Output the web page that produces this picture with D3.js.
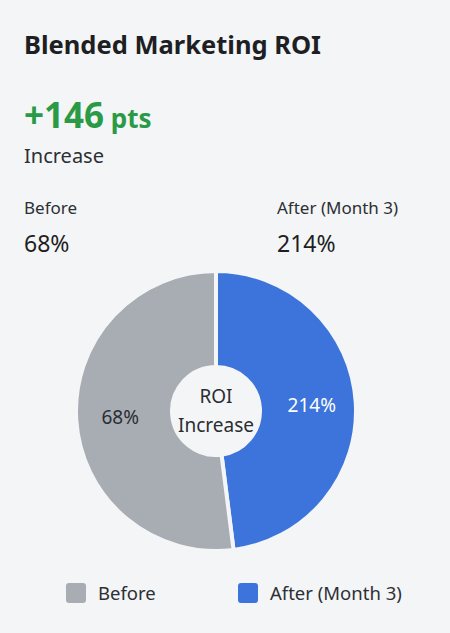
<!DOCTYPE html>
<html><head><meta charset="utf-8">
<script src="https://cdn.jsdelivr.net/npm/d3@7"></script>
<style>body{margin:0;background:#f4f5f6;font-family:"Noto Sans",sans-serif;}</style>
</head><body><div class="js-chart"></div>
<script>
(function(d3) {
	// labels and values shown on the chart
	var categories = ['After (Month 3)', 'Before'],
		roiValues = ['214%', '68%'],
		// slice shares as drawn in the picture (percent of the ring)
		sliceShares = [48, 52],
		colors = ['#3d74db', '#a8acb3'];

	var w = 450, h = 633,
		svg = d3.select('.js-chart').append('svg').attr('width', w).attr('height', h);

	svg.append('rect').attr('width', w).attr('height', h).attr('fill', '#f4f5f6');

	svg.append('text').attr('x', 24).attr('y', 54).text('Blended Marketing ROI')
		.attr('font-size', 25.5).attr('font-weight', 700).attr('fill', '#1d1f24');

	var big = svg.append('text').attr('x', 24).attr('y', 128).attr('fill', '#2a9a47').attr('font-weight', 700);
	big.append('tspan').text('+146').attr('font-size', 35);
	big.append('tspan').text(' pts').attr('font-size', 26);
	svg.append('text').attr('x', 24).attr('y', 163).text('Increase').attr('font-size', 20).attr('fill', '#2c2f35');

	svg.append('text').attr('x', 24).attr('y', 214).text('Before').attr('font-size', 17).attr('fill', '#2c2f35');
	svg.append('text').attr('x', 24).attr('y', 252).text(roiValues[1]).attr('font-size', 23).attr('fill', '#1d1f24');
	svg.append('text').attr('x', 277).attr('y', 214).text(categories[0]).attr('font-size', 17).attr('fill', '#2c2f35');
	svg.append('text').attr('x', 277).attr('y', 252).text(roiValues[0]).attr('font-size', 23).attr('fill', '#1d1f24');

	var cx = 216, cy = 411;
	var pie = d3.pie().sort(null).value(function(d) { return d; });
	var arc = d3.arc().innerRadius(44).outerRadius(140);
	var g = svg.append('g').attr('transform', 'translate(' + cx + ',' + cy + ')');
	var arcs = pie(sliceShares);

	g.selectAll('path').data(arcs).enter().append('path')
		.attr('d', arc)
		.attr('fill', function(d, i) { return colors[i]; })
		.attr('stroke', '#f4f5f6').attr('stroke-width', 4);

	var labelArc = d3.arc().innerRadius(96).outerRadius(96);
	g.selectAll('text.val').data(arcs).enter().append('text')
		.attr('class', 'val')
		.attr('transform', function(d) { var c = labelArc.centroid(d); return 'translate(' + c[0] + ',' + (c[1] + 7) + ')'; })
		.attr('text-anchor', 'middle').attr('font-size', 19)
		.attr('fill', function(d, i) { return i === 0 ? '#fff' : '#2a2d33'; })
		.text(function(d, i) { return roiValues[i]; });

	g.append('text').attr('y', -8).attr('text-anchor', 'middle').attr('font-size', 19).attr('fill', '#2a2d33').text('ROI');
	g.append('text').attr('y', 21).attr('text-anchor', 'middle').attr('font-size', 19).attr('fill', '#2a2d33').text('Increase');

	var legend = [{ name: categories[1], color: colors[1], x: 66 }, { name: categories[0], color: colors[0], x: 238 }];
	var lg = svg.selectAll('g.legend').data(legend).enter().append('g').attr('class', 'legend');
	lg.append('rect').attr('x', function(d) { return d.x; }).attr('y', 583)
		.attr('width', 20).attr('height', 20).attr('rx', 3).attr('fill', function(d) { return d.color; });
	lg.append('text').attr('x', function(d) { return d.x + 32; }).attr('y', 600)
		.attr('font-size', 18.5).attr('fill', '#2c2f35').text(function(d) { return d.name; });
})(d3);
</script></body></html>
